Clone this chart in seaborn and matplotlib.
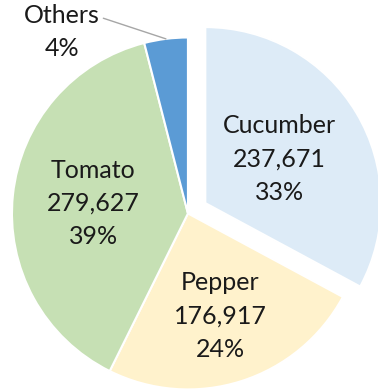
import numpy as np
import matplotlib
matplotlib.use("Agg")
import matplotlib.pyplot as plt
import seaborn as sns

# Production by crop
crops = ["Cucumber", "Pepper", "Tomato", "Others"]
amounts = [237671, 176917, 279627, 28900]
colors = ["#DDEBF7", "#FFF2CC", "#C6E0B4", "#5B9BD5"]
explode = [0.115, 0, 0, 0]
label_radius = [0.49, 0.61, 0.54, None]

sns.set_theme(style="white")
plt.rcParams["font.family"] = ["Lato", "DejaVu Sans"]

fig = plt.figure(figsize=(3.78, 3.91), dpi=100)
ax = fig.add_axes([0, 0, 1, 1])

wedges, _ = ax.pie(amounts, colors=colors, explode=explode, startangle=90,
                   counterclock=False, radius=1.0,
                   wedgeprops=dict(edgecolor="white", linewidth=1.5))

total = sum(amounts)
text_style = dict(ha="center", va="center", fontsize=18, color="#1a1a1a",
                  fontweight="normal", linespacing=1.55)
for w, name, val, r in zip(wedges, crops, amounts, label_radius):
    pct = round(100 * val / total)
    mid = np.deg2rad((w.theta1 + w.theta2) / 2)
    cx, cy = w.center
    if r is not None:
        ax.text(cx + r * np.cos(mid), cy + r * np.sin(mid),
                f"{name}\n{val:,}\n{pct}%", **text_style)
    else:
        ex, ey = cx + 1.0 * np.cos(mid), cy + 1.0 * np.sin(mid)
        ax.annotate(f"{name}\n{pct}%", xy=(ex, ey), xytext=(-0.715, 1.03),
                    arrowprops=dict(arrowstyle="-", color="#a6a6a6", lw=1,
                                    shrinkA=0, shrinkB=0,
                                    relpos=(0.97, 0.78)),
                    **text_style)

ax.set_xlim(-1.068, 1.080)
ax.set_ylim(-1.009, 1.213)
ax.set_aspect("equal")
ax.axis("off")

fig.savefig("out.png", dpi=100)
